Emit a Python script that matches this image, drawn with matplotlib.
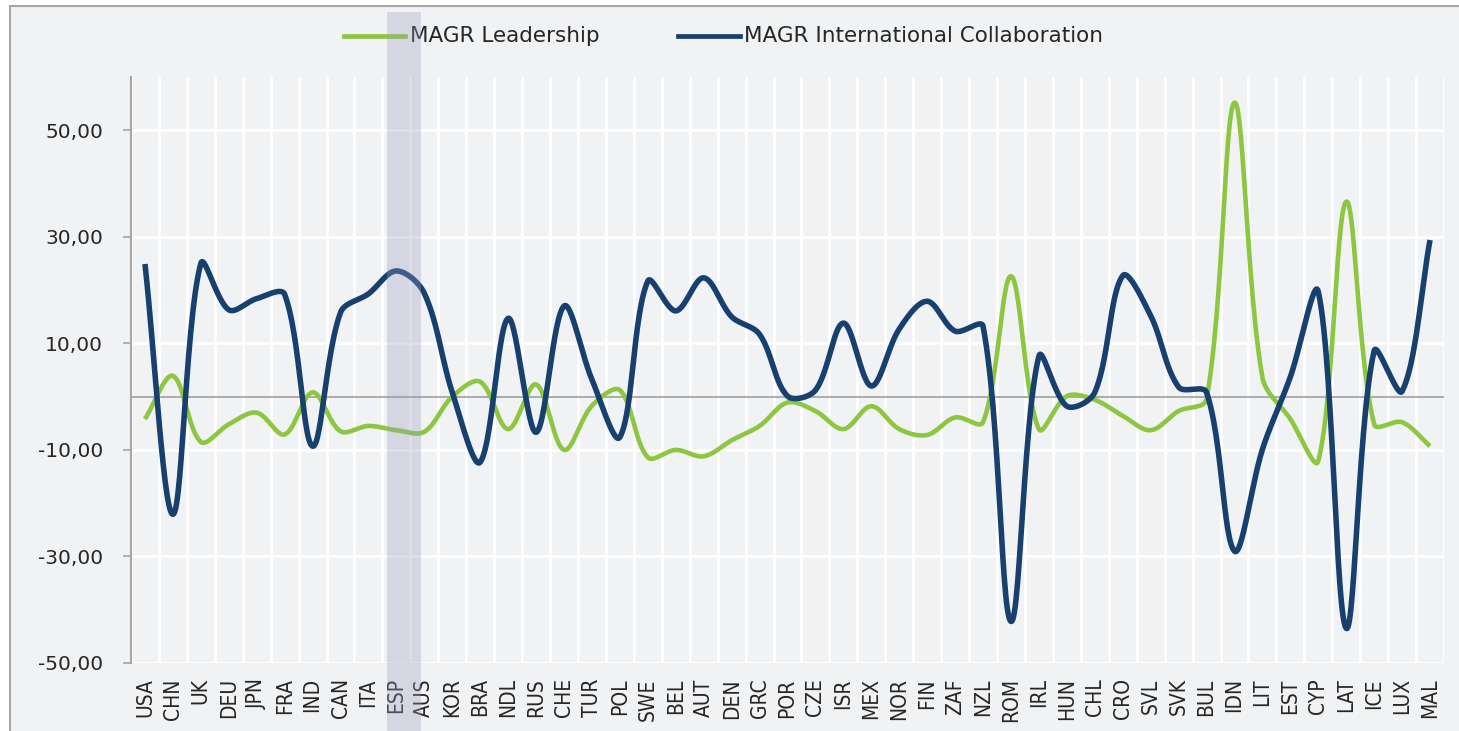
import numpy as np
import matplotlib
matplotlib.use("Agg")
import matplotlib.pyplot as plt
from matplotlib.lines import Line2D
from matplotlib.patches import Rectangle
from matplotlib import font_manager

countries = ["USA", "CHN", "UK", "DEU", "JPN", "FRA", "IND", "CAN", "ITA", "ESP",
             "AUS", "KOR", "BRA", "NDL", "RUS", "CHE", "TUR", "POL", "SWE", "BEL",
             "AUT", "DEN", "GRC", "POR", "CZE", "ISR", "MEX", "NOR", "FIN", "ZAF",
             "NZL", "ROM", "IRL", "HUN", "CHL", "CRO", "SVL", "SVK", "BUL", "IDN",
             "LIT", "EST", "CYP", "LAT", "ICE", "LUX", "MAL"]

leadership = [-4.2, 3.9, -8.5, -5.2, -3.0, -7.1, 0.8, -6.5, -5.5, -6.3,
              -6.6, 0.0, 2.8, -6.1, 2.3, -10.0, -1.7, 1.2, -11.4, -10.0,
              -11.2, -8.2, -5.5, -1.1, -2.7, -6.1, -1.8, -6.1, -7.2, -3.9,
              -4.8, 22.6, -6.1, 0.1, -0.6, -3.6, -6.3, -2.7, -0.5, 55.2,
              3.6, -4.2, -12.1, 36.6, -5.2, -4.8, -9.3]

collaboration = [24.9, -22.1, 25.0, 16.3, 18.4, 19.2, -9.3, 15.8, 19.3, 23.6,
                 19.4, 0.8, -12.3, 14.7, -6.7, 17.0, 3.2, -7.6, 21.7, 16.1,
                 22.3, 15.0, 11.7, 0.1, 1.2, 13.8, 2.0, 12.7, 17.9, 12.3,
                 13.2, -42.2, 7.6, -1.8, 0.8, 22.7, 15.2, 1.8, 0.8, -29.0,
                 -9.9, 3.7, 19.7, -43.5, 8.6, 1.0, 29.4]

series_names = ["MAGR Leadership", "MAGR International Collaboration"]
yticks = [-50, -30, -10, 10, 30, 50]
highlight = "ESP"

GREEN = "#8DC641"
BLUE = "#17406F"
BG = "#F1F2F4"
TXT = "#262626"
GRAYLINE = "#A6A6A6"


def smooth(ax, xv, yv, n=30):
    """Excel-like smoothed line: Bezier segments whose control arms are
    scaled by neighbouring segment lengths, computed in display space."""
    P = ax.transData.transform(np.column_stack([xv, yv]).astype(float))
    out = [P[0]]
    t = np.linspace(0, 1, n)[1:, None]
    m = len(P)

    def ctrl(i, toward_next):
        p0 = P[i - 1] if i > 0 else P[i]
        p2 = P[i + 1] if i + 1 < m else P[i]
        d = p2 - p0
        l0 = np.hypot(*(P[i] - p0))
        l1 = np.hypot(*(p2 - P[i]))
        tot = l0 + l1
        if tot == 0:
            return P[i]
        if toward_next:
            return P[i] + d * (l1 / tot) / 3.0
        return P[i] - d * (l0 / tot) / 3.0

    for i in range(m - 1):
        p1, p2 = P[i], P[i + 1]
        c1 = ctrl(i, True)
        c2 = ctrl(i + 1, False)
        seg = ((1 - t) ** 3) * p1 + 3 * ((1 - t) ** 2) * t * c1 + 3 * (1 - t) * t ** 2 * c2 + t ** 3 * p2
        out.extend(seg)
    out = ax.transData.inverted().transform(np.array(out))
    return out[:, 0], out[:, 1]


avail = {f.name for f in font_manager.fontManager.ttflist}
if "Liberation Sans Narrow" in avail:
    xfont, xstretch = "Liberation Sans Narrow", "normal"
else:
    xfont, xstretch = "DejaVu Sans", "condensed"

W, H = 1459, 731
fig = plt.figure(figsize=(W / 100, H / 100), dpi=100, facecolor="white")

# chart frame
fig.patches.append(Rectangle((10 / W, -0.05), 1.1, 1 - 6 / H + 0.05, transform=fig.transFigure,
                             facecolor=BG, edgecolor=GRAYLINE, lw=1.5, zorder=-5))

ax = fig.add_axes([131 / W, 1 - 663 / H, (1444 - 131) / W, (663 - 77) / H])
ax.set_zorder(2)
ax.set_facecolor(BG)
ax.set_xlim(-0.5, len(countries) - 0.5)
ax.set_ylim(-50, 60)

x = np.arange(len(countries))
for vals, col, lw, z in [(leadership, GREEN, 3.3, 3), (collaboration, BLUE, 4.0, 4)]:
    sx, sy = smooth(ax, x, vals)
    ax.plot(sx, sy, color=col, lw=lw, solid_capstyle="butt", solid_joinstyle="round", zorder=z)

ax.set_xlim(-0.5, len(countries) - 0.5)
ax.set_ylim(-50, 60)
ax.set_yticks(yticks)
ax.set_yticklabels([f"{v:.2f}".replace(".", ",") for v in yticks])
ax.set_xticks(x)
ax.set_xticklabels(countries, rotation=90, fontfamily=xfont, fontstretch=xstretch,
                   fontsize=15, color=TXT)
ax.set_xticks(np.arange(len(countries) + 1) - 0.5, minor=True)

ax.tick_params(axis="x", which="both", length=0, pad=11)
ax.tick_params(axis="y", which="major", length=6, width=1.2, color=GRAYLINE, pad=14,
               labelsize=14.5, labelcolor=TXT)
ax.grid(True, axis="x", which="minor", color="white", lw=2)
ax.grid(True, axis="y", which="major", color="white", lw=2)
ax.grid(False, axis="x", which="major")
ax.set_axisbelow(True)
ax.axhline(0, color=GRAYLINE, lw=1.3, zorder=2)

for s in ["top", "right", "bottom"]:
    ax.spines[s].set_visible(False)
ax.spines["left"].set_color(GRAYLINE)
ax.spines["left"].set_linewidth(1.5)
ax.spines["left"].set_zorder(5)

# legend (top center)
ly = 1 - 36 / H
fig.lines.append(Line2D([344 / W, 405 / W], [ly, ly], transform=fig.transFigure, color=GREEN, lw=3.4))
fig.text(410 / W, ly, series_names[0], fontsize=15.5, color=TXT, va="center", ha="left")
fig.lines.append(Line2D([678 / W, 740 / W], [ly, ly], transform=fig.transFigure, color=BLUE, lw=3.4))
fig.text(744 / W, ly, series_names[1], fontsize=15.5, color=TXT, va="center", ha="left")

# highlight band for the selected country
fig.patches.append(Rectangle((387 / W, 0), (421 - 387) / W, 1 - 12 / H, transform=fig.transFigure,
                             facecolor="#9A9CBA", alpha=0.32, edgecolor="none", zorder=10))

fig.savefig("out.png", dpi=100, facecolor="white")
